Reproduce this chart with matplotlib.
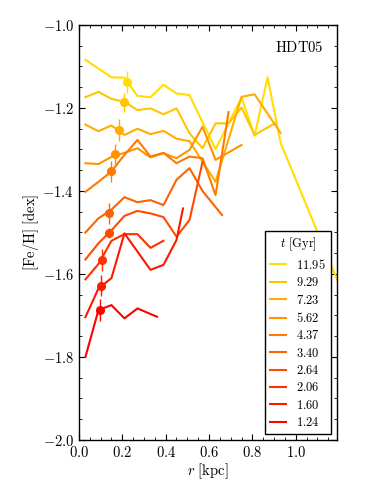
import numpy as np
import matplotlib
matplotlib.use('Agg')
import matplotlib.pyplot as plt
from matplotlib.ticker import MultipleLocator, FuncFormatter

plt.rcParams['mathtext.fontset'] = 'cm'  # computer modern look

# stellar ages of each population [Gyr]
ages = [11.95, 9.29, 7.23, 5.62, 4.37, 3.40, 2.64, 2.06, 1.60, 1.24]

# metallicity profiles, one pair of lists per age
r_1195 = [0.03, 0.09, 0.15, 0.21, 0.27, 0.33, 0.39, 0.45, 0.51, 0.63, 0.75, 0.81, 0.87, 0.93, 1.20]
feh_1195 = [-1.084, -1.105, -1.126, -1.127, -1.171, -1.174, -1.144, -1.165, -1.169, -1.299, -1.175, -1.267, -1.126, -1.284, -1.625]

r_929 = [0.03, 0.09, 0.15, 0.21, 0.27, 0.33, 0.39, 0.45, 0.51, 0.57, 0.63, 0.69, 0.75, 0.81, 0.91]
feh_929 = [-1.174, -1.161, -1.178, -1.185, -1.205, -1.201, -1.215, -1.201, -1.261, -1.297, -1.237, -1.237, -1.199, -1.265, -1.235]

r_723 = [0.03, 0.09, 0.15, 0.21, 0.27, 0.33, 0.39, 0.45, 0.51, 0.63, 0.75, 0.81, 0.93]
feh_723 = [-1.240, -1.256, -1.242, -1.265, -1.250, -1.263, -1.255, -1.274, -1.280, -1.378, -1.173, -1.167, -1.260]

r_562 = [0.03, 0.09, 0.15, 0.21, 0.27, 0.33, 0.39, 0.45, 0.51, 0.57, 0.63, 0.75]
feh_562 = [-1.333, -1.335, -1.318, -1.308, -1.297, -1.319, -1.309, -1.321, -1.301, -1.245, -1.325, -1.289]

r_437 = [0.03, 0.09, 0.15, 0.21, 0.27, 0.33, 0.39, 0.45, 0.51, 0.57, 0.63, 0.69]
feh_437 = [-1.402, -1.378, -1.353, -1.313, -1.277, -1.317, -1.308, -1.333, -1.317, -1.321, -1.410, -1.210]

r_340 = [0.03, 0.09, 0.15, 0.21, 0.27, 0.33, 0.39, 0.45, 0.51, 0.57, 0.66]
feh_340 = [-1.500, -1.466, -1.445, -1.415, -1.427, -1.422, -1.434, -1.373, -1.345, -1.400, -1.458]

r_264 = [0.03, 0.09, 0.15, 0.21, 0.27, 0.33, 0.39, 0.45, 0.51, 0.57]
feh_264 = [-1.565, -1.526, -1.495, -1.460, -1.448, -1.454, -1.463, -1.510, -1.470, -1.330]

r_206 = [0.03, 0.09, 0.15, 0.21, 0.27, 0.33, 0.39]
feh_206 = [-1.613, -1.576, -1.520, -1.504, -1.504, -1.537, -1.520]

r_160 = [0.03, 0.09, 0.15, 0.21, 0.27, 0.33, 0.39, 0.45, 0.48]
feh_160 = [-1.704, -1.635, -1.610, -1.502, -1.546, -1.590, -1.578, -1.518, -1.442]

r_124 = [0.03, 0.09, 0.15, 0.21, 0.27, 0.36]
feh_124 = [-1.800, -1.687, -1.675, -1.707, -1.683, -1.703]

# mean values with error bars (one per age)
marker_r = [0.224, 0.208, 0.185, 0.166, 0.150, 0.138, 0.138, 0.107, 0.104, 0.095]
marker_feh = [-1.137, -1.186, -1.253, -1.312, -1.353, -1.454, -1.502, -1.566, -1.628, -1.687]
marker_err = [0.027, 0.023, 0.027, 0.025, 0.026, 0.026, 0.012, 0.027, 0.026, 0.026]

profiles_r = [r_1195, r_929, r_723, r_562, r_437, r_340, r_264, r_206, r_160, r_124]
profiles_feh = [feh_1195, feh_929, feh_723, feh_562, feh_437, feh_340, feh_264, feh_206, feh_160, feh_124]

colors = plt.cm.autumn(np.linspace(0.87, 0.0, len(ages)))  # yellow (old) to red (young)

fig = plt.figure(figsize=(3.74, 4.98), dpi=100)
ax = fig.add_axes([0.211, 0.1165, 0.690, 0.8333])

for i in range(len(ages)):
    ax.plot(profiles_r[i], profiles_feh[i], color=colors[i], lw=1.5,
            label=r'$\mathrm{%.2f}$' % ages[i])
    ax.errorbar(marker_r[i], marker_feh[i], yerr=marker_err[i], fmt='o',
                color=colors[i], ms=5.5, elinewidth=1.0, capsize=0)

ax.set_xlim(0.0, 1.19)
ax.set_ylim(-2.0, -1.0)
ax.xaxis.set_major_locator(MultipleLocator(0.2))
ax.xaxis.set_minor_locator(MultipleLocator(0.05))
ax.yaxis.set_major_locator(MultipleLocator(0.2))
ax.yaxis.set_minor_locator(MultipleLocator(0.05))
ax.xaxis.set_major_formatter(FuncFormatter(lambda v, p: r'$%.1f$' % v))
ax.yaxis.set_major_formatter(FuncFormatter(lambda v, p: r'$%.1f$' % v))
ax.tick_params(which='both', direction='in', top=True, right=True, labelsize=10.5)
ax.tick_params(which='major', length=4.5, width=0.8)
ax.tick_params(which='minor', length=2.5, width=0.6)
for s in ax.spines.values():
    s.set_linewidth(1.0)

ax.set_xlabel(r'$r\ \mathrm{[kpc]}$', fontsize=10.5, labelpad=1)
ax.set_ylabel(r'$\mathrm{[Fe/H]\ [dex]}$', fontsize=10.5, labelpad=1)

ax.text(0.946, 0.945, r'$\mathrm{HDT05}$', transform=ax.transAxes,
        ha='right', va='center', fontsize=10.5)

leg = ax.legend(loc='lower right', bbox_to_anchor=(0.977, 0.014), borderaxespad=0,
                title=r'$t\ \mathrm{[Gyr]}$', fontsize=9, title_fontsize=9,
                fancybox=False, framealpha=1, edgecolor='black',
                handlelength=1.3, handletextpad=0.8, labelspacing=0.35,
                borderpad=0.4)
leg.get_frame().set_linewidth(1.0)

fig.savefig('out.png', dpi=100)
